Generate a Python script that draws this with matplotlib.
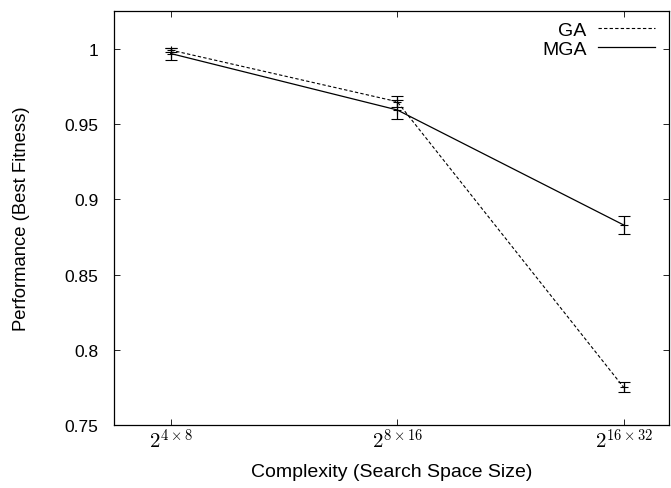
import matplotlib
matplotlib.use('Agg')
import matplotlib.pyplot as plt
from matplotlib.lines import Line2D

plt.rcParams['font.family'] = ['Liberation Sans', 'DejaVu Sans']
plt.rcParams['mathtext.fontset'] = 'cm'

# data
complexity = [0, 1, 2]
tick_labels = [r'$2^{4\times8}$', r'$2^{8\times16}$', r'$2^{16\times32}$']
ga_mean = [0.9993, 0.965, 0.775]
ga_err = [0.0015, 0.0035, 0.0033]
mga_mean = [0.997, 0.9595, 0.883]
mga_err = [0.0040, 0.0063, 0.0060]

ga_style = dict(color='black', lw=0.8, ls=(0, (3, 2)))
mga_style = dict(color='black', lw=0.9, ls='-')

fig = plt.figure(figsize=(6.71, 4.89), dpi=100, facecolor='white')
ax = fig.add_axes([0.1694, 0.1288, 0.8276, 0.8467])

ax.errorbar(complexity, ga_mean, yerr=ga_err, marker='+', ms=6, mew=0.8,
            capsize=4, elinewidth=0.9, capthick=0.9, **ga_style)
ax.errorbar(complexity, mga_mean, yerr=mga_err, marker='+', ms=6, mew=0.8,
            capsize=4, elinewidth=0.9, capthick=0.9, **mga_style)

ax.set_xlim(-0.252, 2.2)
ax.set_ylim(0.75, 1.0253)
ax.set_xticks(complexity)
ax.set_xticklabels(tick_labels, fontsize=15)
ax.set_yticks([0.75, 0.8, 0.85, 0.9, 0.95, 1.0])
ax.set_yticklabels(['0.75', '0.8', '0.85', '0.9', '0.95', '1'], fontsize=12.5)
ax.tick_params(axis='both', direction='in', length=4.5, width=0.6,
               top=True, right=True)
ax.tick_params(axis='y', pad=11)
ax.tick_params(axis='x', pad=2)
for s in ax.spines.values():
    s.set_linewidth(0.9)

ax.set_xlabel('Complexity (Search Space Size)', fontsize=14, labelpad=8)
ax.set_ylabel('Performance (Best Fitness)', fontsize=13.3, labelpad=25)

handles = [Line2D([], [], **ga_style), Line2D([], [], **mga_style)]
ax.legend(handles, ['GA', 'MGA'], loc='upper right', frameon=False,
          markerfirst=False, fontsize=14, handlelength=2.9, handletextpad=0.6,
          labelspacing=0.05, borderpad=0, borderaxespad=0,
          bbox_to_anchor=(0.974, 0.975))

fig.savefig('out.png', dpi=100)
